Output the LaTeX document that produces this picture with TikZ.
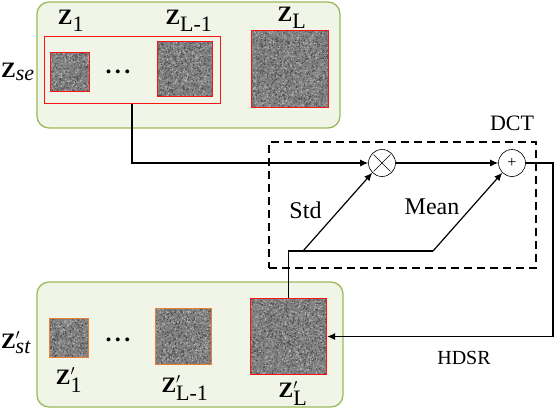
\documentclass[tikz,border=0pt]{standalone}
\usepackage{fontspec}
\setmainfont{Liberation Serif}[Ligatures=TeX]
\newfontfamily\tnr{Liberation Serif}
\usetikzlibrary{arrows.meta,positioning,calc}
\definecolor{panelgreen}{RGB}{241,245,232}
\definecolor{paneledge} {RGB}{155,187,89}
\definecolor{zred}      {RGB}{250,20,20}
\definecolor{zorange}   {RGB}{237,125,49}
\definecolor{noisegray} {RGB}{128,128,128}
\definecolor{noiselight}{RGB}{178,178,178}
\definecolor{noisedark} {RGB}{78,78,78}
\tikzset{
  panel/.style  ={draw=paneledge, fill=panelgreen, line width=1.3pt,
                  rounded corners=12pt, inner sep=0pt},
  sq/.style     ={minimum size=#1, inner sep=0pt, line width=1pt},
  noisy/.style  ={fill=noisegray, path picture={
                    \fill[noiselight] \foreach \k in {1,...,#1}{
                      ([shift={({rnd*78},{rnd*78})}]path picture bounding box.north west) rectangle ++(1,1)};
                    \fill[noisedark] \foreach \k in {1,...,#1}{
                      ([shift={({rnd*78},{rnd*78})}]path picture bounding box.north west) rectangle ++(1,1)};
                    }},
  grpbox/.style ={draw=zred, line width=1pt, inner sep=0pt},
  dctbox/.style ={draw, line width=1.2pt, dash pattern=on 8pt off 5pt, inner sep=0pt},
  opnode/.style ={circle, draw, fill=white, line width=0.6pt, minimum size=27pt, inner sep=0pt},
  zlabel/.style ={font=\tnr\fontsize{22}{26}\selectfont, inner sep=0pt},
  dots/.style   ={font=\tnr\fontsize{24}{24}\selectfont\bfseries, inner sep=0pt},
  txt/.style    ={font=\tnr\fontsize{#1}{#1}\selectfont, inner sep=0pt},
  arr/.style    ={-{Latex[length=8pt,width=7pt]}, line width=1.2pt},
  line/.style   ={line width=1.2pt},
}
\pgfmathsetseed{7}
\begin{document}
\begin{tikzpicture}[x=1pt,y=-1pt]
  \useasboundingbox (0,0) rectangle (556,410);
  %% panels
  \node[panel, minimum width=303pt, minimum height=126pt] (top) at (188.5,65) {};
  \node[panel, minimum width=306pt, minimum height=125pt] (bot) at (190,344.5) {};
  %% Z_se
  \node[grpbox, minimum width=176pt, minimum height=67pt] (grp) at (132,69.5) {};
  \node[sq=39pt, noisy=900, draw=zred] (z1) at (69.5,71.5) {};
  \node[sq=55pt, noisy=900, draw=zred] (zl1) at (185,69) {};
  \node[sq=77pt, noisy=900, draw=zred] (zL) at (290,69) {};
  \node[dots] (dtop) at (118,72) {.\hspace{3.5pt}.\hspace{3.5pt}.};
  \node[zlabel] (lz1) at (71,21) {$\textbf{Z}_{\textrm{1}}$};
  \node[zlabel] (lzl1) at (189,21) {$\textbf{Z}_{\textrm{L-1}}$};
  \node[zlabel] (lzL) at (292,18) {$\textbf{Z}_{\textrm{L}}$};
  \node[zlabel] (lse) at (18,72) {$\textbf{Z}_{\textit{se}}$};
  %% Z'_st
  \node[sq=39pt, noisy=900, draw=zorange] (z1p) at (68.5,338) {};
  \node[sq=56pt, noisy=900, draw=zorange] (zl1p) at (183.5,336.5) {};
  \node[sq=76pt, noisy=900, draw=zred, line width=1.3pt] (zLp) at (288.5,336.5) {};
  \node[dots] (dbot) at (118,340) {.\hspace{3.5pt}.\hspace{3.5pt}.};
  \node[zlabel] (lz1p) at (69,380) {$\textbf{Z}^{\prime}_{\textrm{1}}$};
  \node[zlabel] (lzl1p) at (185,388) {$\textbf{Z}^{\prime}_{\textrm{L-1}}$};
  \node[zlabel] (lzLp) at (293,393) {$\textbf{Z}^{\prime}_{\textrm{L}}$};
  \node[zlabel] (lst) at (16,343) {$\textbf{Z}^{\prime}_{\textit{st}}$};
  %% DCT block
  \node[dctbox, minimum width=267pt, minimum height=126pt] (dct) at (402.5,205) {};
  \node[txt=22] (ldct) at (512,123) {DCT};
  \node[opnode, path picture={
      \draw[line width=0.6pt] ([shift={(-8.5,-8.5)}]path picture bounding box.center) -- ([shift={(8.5,8.5)}]path picture bounding box.center);
      \draw[line width=0.6pt] ([shift={(-8.5,8.5)}]path picture bounding box.center) -- ([shift={(8.5,-8.5)}]path picture bounding box.center);}] (mul) at (382,163) {};
  \node[opnode, font=\tnr\fontsize{16}{16}\selectfont] (add) at (512,163) {+};
  \node[txt=24] (lstd) at (305.5,210) {Std};
  \node[txt=24] (lmean) at (432,207) {Mean};
  \node[txt=20] (lhdsr) at (464,358) {HDSR};
  %% connectors
  \coordinate (sj) at (303,251);
  \coordinate (mj) at (433,251);
  \coordinate (hd) at (553,336.5);
  \draw[arr] (grp.south) |- (mul.west);
  \draw[arr] (mul.east) -- (add.west);
  \draw[arr] (add.east) -| (hd) -- (zLp.east);
  \draw[line] (zLp.north) |- (mj);
  \draw[arr] (sj) -- (mul.south west);
  \draw[arr] (mj) -- (add.south west);
\end{tikzpicture}
\end{document}
